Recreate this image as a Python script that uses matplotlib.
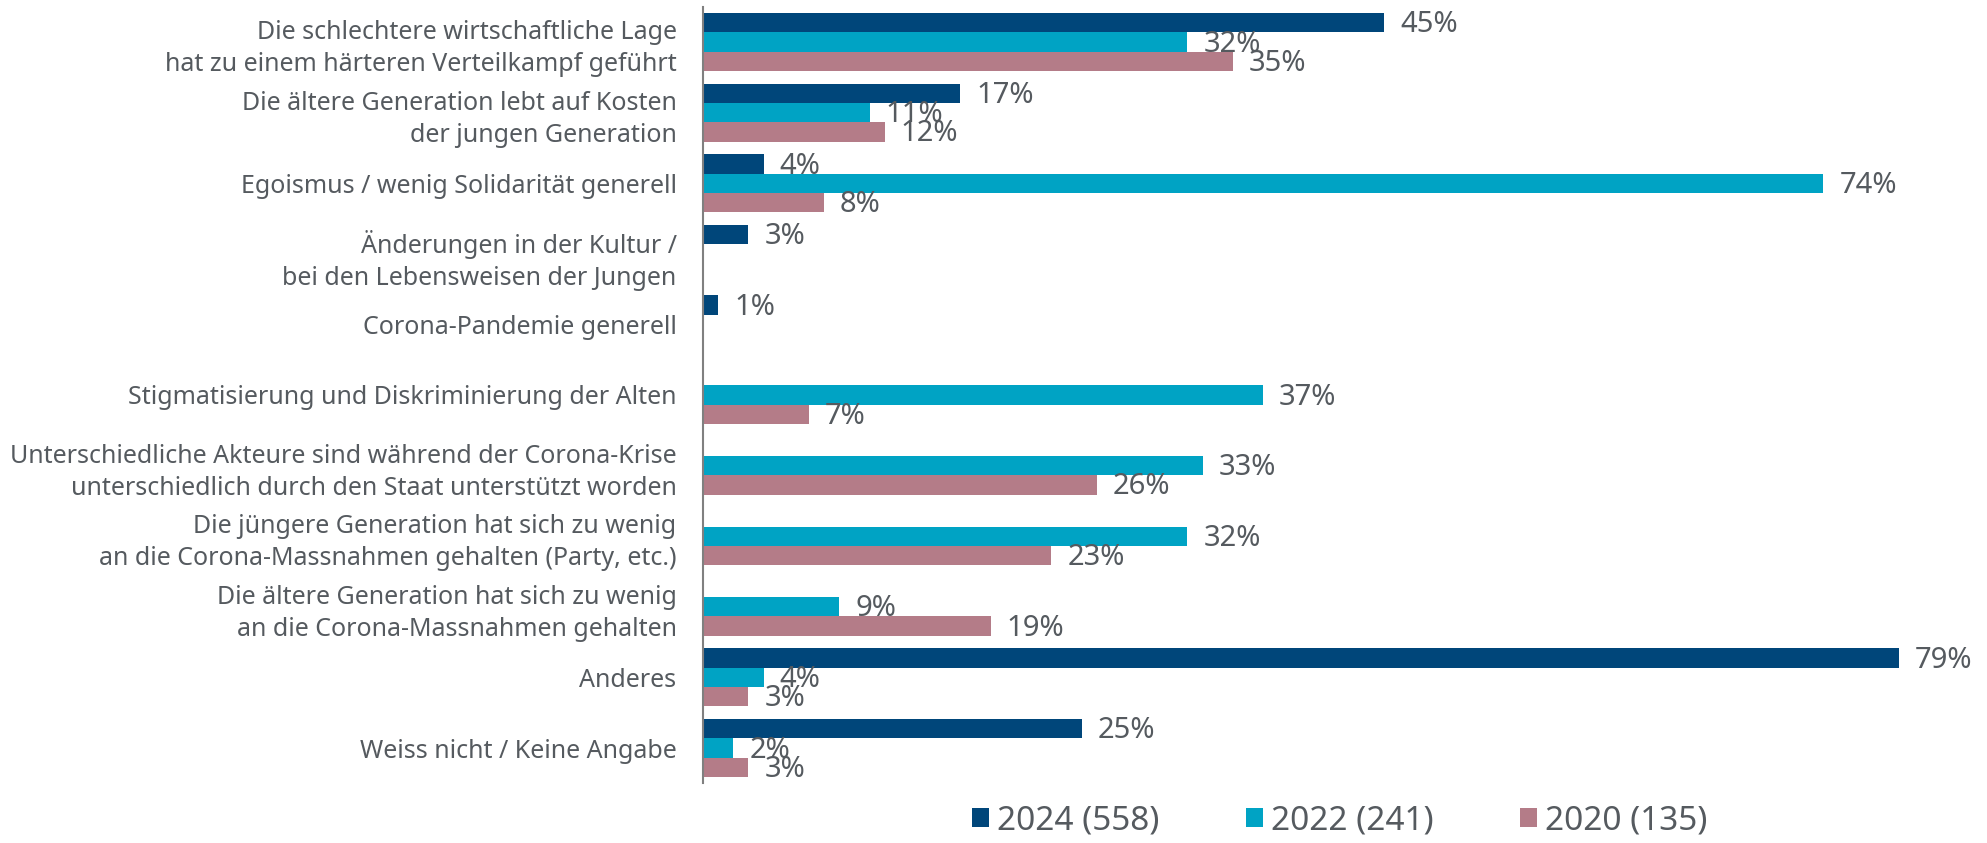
import numpy as np
import matplotlib
matplotlib.use("Agg")
import matplotlib.pyplot as plt

plt.rcParams['font.family'] = ['Noto Sans', 'DejaVu Sans']

# Daten
kategorien = [
    "Die schlechtere wirtschaftliche Lage\nhat zu einem härteren Verteilkampf geführt",
    "Die ältere Generation lebt auf Kosten\nder jungen Generation",
    "Egoismus / wenig Solidarität generell",
    "Änderungen in der Kultur /\nbei den Lebensweisen der Jungen",
    "Corona-Pandemie generell",
    "Stigmatisierung und Diskriminierung der Alten",
    "Unterschiedliche Akteure sind während der Corona-Krise\nunterschiedlich durch den Staat unterstützt worden",
    "Die jüngere Generation hat sich zu wenig\nan die Corona-Massnahmen gehalten (Party, etc.)",
    "Die ältere Generation hat sich zu wenig\nan die Corona-Massnahmen gehalten",
    "Anderes",
    "Weiss nicht / Keine Angabe",
]
werte_2024 = [45, 17, 4, 3, 1, None, None, None, None, 79, 25]
werte_2022 = [32, 11, 74, None, None, 37, 33, 32, 9, 4, 2]
werte_2020 = [35, 12, 8, None, None, 7, 26, 23, 19, 3, 3]
serien = ["2024 (558)", "2022 (241)", "2020 (135)"]
farben = ["#00467A", "#00A3C4", "#B47C88"]
textfarbe = "#555A5F"

fig = plt.figure(figsize=(19.87, 8.43), dpi=100)
ax = fig.add_axes([703 / 1987, 1 - 783.3 / 843, 1 - 703 / 1987, 776.6 / 843])

y = np.arange(len(kategorien))
h = 0.273
for i, (werte, name, farbe) in enumerate(zip([werte_2024, werte_2022, werte_2020], serien, farben)):
    pos = y + (i - 1) * h
    vals = [np.nan if v is None else v for v in werte]
    ax.barh(pos, vals, height=h, color=farbe, label=name)
    for yy, v in zip(pos, werte):
        if v is None:
            continue
        ax.annotate(f"{v}%", (v, yy), xytext=(11.5, -1.5), textcoords="offset points",
                    va="center", ha="left", fontsize=21, color=textfarbe)

ax.set_ylim(len(kategorien) - 0.5, -0.5)
ax.set_xlim(0, (1987 - 703) / 15.14)
ax.set_yticks(y)
ax.set_yticklabels(kategorien, fontsize=18, color=textfarbe, linespacing=1.38)
ax.tick_params(axis="y", length=0, pad=19)
ax.set_xticks([])
for s in ["top", "right", "bottom"]:
    ax.spines[s].set_visible(False)
ax.spines["left"].set_color("#808080")
ax.spines["left"].set_linewidth(1.5)

leg = fig.legend(loc="center", bbox_to_anchor=(1340 / 1987, 1 - 821 / 843), ncol=3, frameon=False,
                 fontsize=24, handlelength=0.5, handleheight=0.5, handletextpad=0.25,
                 columnspacing=2.6)
for t in leg.get_texts():
    t.set_color(textfarbe)

fig.savefig("out.png", dpi=100)
